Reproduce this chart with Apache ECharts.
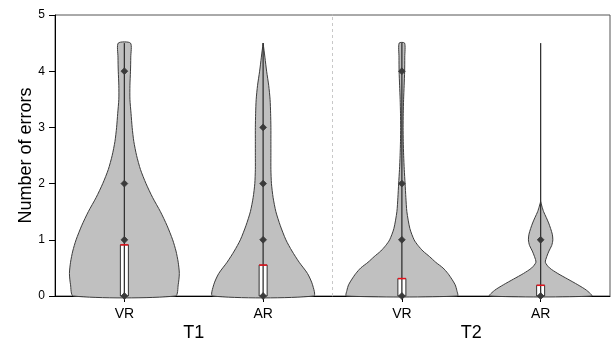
<!DOCTYPE html>
<html>
<head>
<meta charset="utf-8">
<script src="https://cdn.jsdelivr.net/npm/echarts@6/dist/echarts.min.js"></script>
<style>html,body{margin:0;padding:0;background:#fff;}#c{width:612px;height:344px;}</style>
</head>
<body>
<div id="c"></div>
<script>
const categories = ['VR', 'AR', 'VR', 'AR'];
const groups = ['T1', 'T2'];

// violin profiles: y levels and relative density (half-width)
const levelsVRT1 = [0, 0.2, 0.4, 0.6, 0.8, 1.0, 1.25, 1.5, 1.75, 2.0, 2.25, 2.5, 2.75, 3.0, 3.25, 3.5, 3.75, 4.0, 4.25, 4.5];
const densityVRT1 = [0.92, 0.97, 0.99, 0.97, 0.93, 0.87, 0.77, 0.65, 0.51, 0.39, 0.29, 0.22, 0.17, 0.14, 0.12, 0.10, 0.10, 0.11, 0.115, 0.11];
const levelsART1 = [0, 0.2, 0.4, 0.6, 0.8, 1.0, 1.25, 1.5, 1.75, 2.0, 2.25, 2.5, 2.75, 3.0, 3.25, 3.5, 3.75, 4.0, 4.25, 4.5];
const densityART1 = [0.91, 0.89, 0.80, 0.65, 0.52, 0.41, 0.31, 0.23, 0.18, 0.15, 0.14, 0.14, 0.14, 0.14, 0.135, 0.125, 0.10, 0.063, 0.032, 0];
const levelsVRT2 = [0, 0.1, 0.2, 0.3, 0.4, 0.5, 0.6, 0.7, 0.8, 0.9, 1.0, 1.2, 1.5, 1.75, 2.0, 2.25, 2.5, 2.75, 3.0, 3.25, 3.5, 3.75, 4.0, 4.25, 4.5];
const densityVRT2 = [1.0, 0.99, 0.96, 0.90, 0.83, 0.74, 0.61, 0.50, 0.38, 0.29, 0.22, 0.144, 0.09, 0.072, 0.058, 0.043, 0.032, 0.025, 0.022, 0.025, 0.031, 0.041, 0.05, 0.052, 0.049];
const levelsART2 = [0, 0.1, 0.2, 0.3, 0.4, 0.5, 0.6, 0.7, 0.8, 0.9, 1.0, 1.1, 1.2, 1.3, 1.4, 1.5, 1.6, 1.68];
const densityART2 = [0.92, 0.83, 0.67, 0.49, 0.31, 0.16, 0.085, 0.11, 0.15, 0.20, 0.22, 0.21, 0.18, 0.144, 0.10, 0.054, 0.022, 0];

// observed points, means and whisker tops
const pointsVRT1 = [0, 1, 2, 4];
const pointsART1 = [0, 1, 2, 3];
const pointsVRT2 = [0, 1, 2, 4];
const pointsART2 = [0, 1];
const means = [0.91, 0.55, 0.31, 0.19];
const whiskerMin = [0, 0, 0, 0];
const whiskerMax = [4.5, 4.5, 4.5, 4.5];

const levels = [levelsVRT1, levelsART1, levelsVRT2, levelsART2];
const densities = [densityVRT1, densityART1, densityVRT2, densityART2];
const points = [pointsVRT1, pointsART1, pointsVRT2, pointsART2];

function renderItem(params, api) {
  const i = params.dataIndex;
  const cat = api.value(0);
  const band = api.size([1, 0])[0];
  const scale = band * 0.4;
  const lv = levels[i], dn = densities[i];
  const left = [], right = [];
  for (let k = 0; k < lv.length; k++) {
    const p = api.coord([cat, lv[k]]);
    left.push([p[0] - dn[k] * scale, p[1]]);
    right.push([p[0] + dn[k] * scale, p[1]]);
  }
  const poly = left.concat(right.reverse());
  const children = [];
  children.push({
    type: 'polygon',
    shape: { points: poly, smooth: 0.25 },
    style: { fill: '#c0c0c0', stroke: '#3c3c3c', lineWidth: 1 }
  });
  const base = api.coord([cat, 0]);
  const top = api.coord([cat, means[i]]);
  const bw = 8;
  children.push({
    type: 'rect',
    shape: { x: base[0] - bw / 2, y: top[1], width: bw, height: base[1] - top[1] },
    style: { fill: '#ffffff', stroke: '#333333', lineWidth: 1 }
  });
  const w0 = api.coord([cat, whiskerMin[i]]);
  const w1 = api.coord([cat, whiskerMax[i]]);
  children.push({
    type: 'line',
    shape: { x1: w0[0], y1: w0[1], x2: w1[0], y2: w1[1] },
    style: { stroke: '#333333', lineWidth: 1.3 }
  });
  children.push({
    type: 'line',
    shape: { x1: top[0] - bw / 2, y1: top[1], x2: top[0] + bw / 2, y2: top[1] },
    style: { stroke: '#e8101a', lineWidth: 1.5 }
  });
  points[i].forEach(function (v) {
    const p = api.coord([cat, v]);
    const s = 3.4;
    children.push({
      type: 'polygon',
      shape: { points: [[p[0], p[1] - s], [p[0] + s, p[1]], [p[0], p[1] + s], [p[0] - s, p[1]]] },
      style: { fill: '#3a3a3a', stroke: '#3a3a3a', lineWidth: 0.8 }
    });
  });
  return { type: 'group', children: children };
}

const chart = echarts.init(document.getElementById('c'), null, { renderer: 'canvas' });
const font = '"Liberation Sans", Arial, sans-serif';
chart.setOption({
  animation: false,
  backgroundColor: '#ffffff',
  grid: { left: 55, right: 2, top: 15, bottom: 48, show: true, borderColor: '#555555', borderWidth: 1, backgroundColor: 'transparent' },
  xAxis: [
    {
      type: 'category', data: categories, position: 'bottom',
      axisLine: { show: true, lineStyle: { color: '#000', width: 1 } },
      axisTick: { show: true, alignWithLabel: true, length: 6, lineStyle: { color: '#000' } },
      axisLabel: { color: '#000', fontSize: 14, fontFamily: font, margin: 11 },
      splitLine: { show: false }
    },
    {
      type: 'category', data: groups, position: 'bottom',
      axisLine: { show: false }, axisTick: { show: false },
      axisLabel: { color: '#000', fontSize: 18, fontFamily: font, margin: 28 },
      splitLine: { show: false }
    },
    { type: 'value', min: 0, max: 2, show: false }
  ],
  yAxis: {
    type: 'value', min: 0, max: 5, interval: 1,
    name: 'Number of errors', nameLocation: 'middle', nameGap: 20, nameMoveOverlap: false,
    nameTextStyle: { color: '#000', fontSize: 18, fontFamily: font },
    axisLine: { show: true, lineStyle: { color: '#000', width: 1 } },
    axisTick: { show: true, length: 6, lineStyle: { color: '#000' } },
    axisLabel: { color: '#000', fontSize: 12, fontFamily: font, margin: 10 },
    splitLine: { show: false }
  },
  series: [
    {
      type: 'line', xAxisIndex: 2, yAxisIndex: 0, data: [], silent: true,
      markLine: {
        silent: true, symbol: 'none', label: { show: false },
        lineStyle: { color: '#c8c8c8', type: [3, 3], width: 1 },
        data: [{ xAxis: 1 }]
      }
    },
    {
      type: 'custom', xAxisIndex: 0, yAxisIndex: 0,
      renderItem: renderItem,
      encode: { x: 0 },
      data: categories.map(function (c, idx) { return [idx]; }),
      z: 3
    }
  ]
});
</script>
</body>
</html>
